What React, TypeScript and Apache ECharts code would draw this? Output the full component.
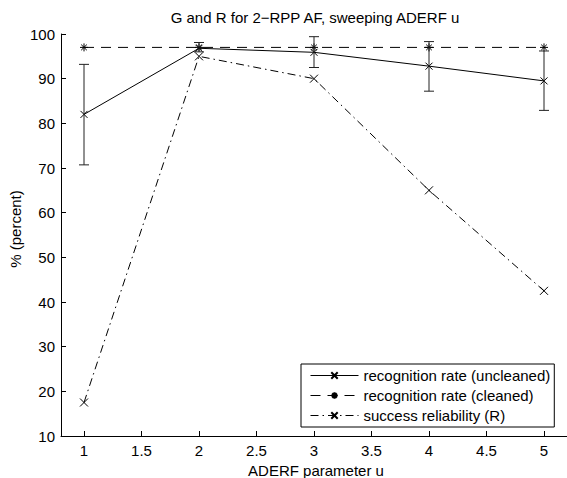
import React, { useEffect, useRef } from "react";
import * as echarts from "echarts";

const xValues = [1, 2, 3, 4, 5];
const uncleaned = [82, 96.8, 95.9, 92.8, 89.5];
const uncleanedLow = [70.7, 96.0, 92.5, 87.2, 82.9];
const uncleanedHigh = [93.2, 98.1, 99.4, 98.3, 96.2];
const cleaned = [97, 97, 97, 97, 97];
const reliability = [17.5, 95, 90, 65, 42.5];
const xTicks = [1, 1.5, 2, 2.5, 3, 3.5, 4, 4.5, 5];

const FONT = "'Liberation Sans', Arial, Helvetica, sans-serif";
const FS = 15;
const CROSS = "path://M0,0L10,10M10,0L0,10";
const STAR = "path://M0,5L10,5M5,0L5,10M1.5,1.5L8.5,8.5M8.5,1.5L1.5,8.5";

export default function App() {
  const ref = useRef<HTMLDivElement>(null);
  useEffect(() => {
    if (!ref.current) return;
    const chart = echarts.init(ref.current, undefined, { renderer: "svg" });
    const pts = (ys: number[]) => xValues.map((x, i) => [x, ys[i]]);
    const markStyle = { color: "#000", borderColor: "#000", borderWidth: 1 };
    chart.setOption({
      animation: false,
      backgroundColor: "#fff",
      textStyle: { fontFamily: FONT, color: "#000" },
      grid: { left: 61, right: -4, top: 34, bottom: 42 },
      xAxis: {
        type: "value",
        min: 0.8,
        max: 5.2,
        axisLine: { show: true, onZero: false, lineStyle: { color: "#000", width: 1 } },
        axisTick: { show: true, inside: true, length: 5, customValues: xTicks, lineStyle: { color: "#000" } },
        axisLabel: { customValues: xTicks, color: "#000", fontSize: FS, fontFamily: FONT, margin: 7 },
        splitLine: { show: false },
      },
      yAxis: {
        type: "value",
        min: 10,
        max: 100,
        interval: 10,
        axisLine: { show: true, onZero: false, lineStyle: { color: "#000", width: 1 } },
        axisTick: { show: true, inside: true, length: 5, lineStyle: { color: "#000" } },
        axisLabel: { color: "#000", fontSize: FS, fontFamily: FONT, margin: 6 },
        splitLine: { show: false },
      },
      legend: {
        orient: "vertical",
        left: 301,
        top: 364,
        padding: [4, 4, 4, 9],
        itemGap: 5,
        itemWidth: 48,
        itemHeight: 8,
        borderColor: "#000",
        borderWidth: 1,
        borderRadius: 0,
        backgroundColor: "#fff",
        lineStyle: { width: 1 },
        textStyle: { fontSize: FS, fontFamily: FONT, color: "#000" },
        data: [
          "recognition rate (uncleaned)",
          "recognition rate (cleaned)",
          "success reliability (R)",
        ],
      },
      graphic: [
        {
          type: "text",
          style: {
            text: "G and R for 2\u2212RPP AF, sweeping ADERF u",
            x: 315,
            y: 17,
            align: "center",
            verticalAlign: "middle",
            font: `${FS}px ${FONT}`,
            fill: "#000",
          },
        },
        {
          type: "text",
          style: {
            text: "ADERF parameter u",
            x: 316,
            y: 470,
            align: "center",
            verticalAlign: "middle",
            font: `${FS}px ${FONT}`,
            fill: "#000",
          },
        },
        {
          type: "text",
          x: 15,
          y: 229,
          rotation: Math.PI / 2,
          style: {
            text: "% (percent)",
            x: 0,
            y: 0,
            align: "center",
            verticalAlign: "middle",
            font: `${FS}px ${FONT}`,
            fill: "#000",
          },
        },
      ],
      series: [
        {
          name: "recognition rate (uncleaned)",
          type: "line",
          data: pts(uncleaned),
          symbol: CROSS,
          symbolSize: 7,
          showAllSymbol: true,
          lineStyle: { color: "#000", width: 1, type: "solid" },
          itemStyle: markStyle,
          z: 3,
        },
        {
          name: "recognition rate (cleaned)",
          type: "line",
          data: pts(cleaned),
          symbol: STAR,
          symbolSize: 8,
          lineStyle: { color: "#000", width: 1, type: [10, 7] },
          itemStyle: markStyle,
          z: 2,
        },
        {
          name: "success reliability (R)",
          type: "line",
          data: pts(reliability),
          symbol: CROSS,
          symbolSize: 8,
          lineStyle: { color: "#000", width: 1, type: [8, 4, 1.5, 4] },
          itemStyle: markStyle,
          z: 2,
        },
        {
          name: "errorbars",
          type: "custom",
          data: xValues.map((x, i) => [x, uncleanedLow[i], uncleanedHigh[i]]),
          encode: { x: 0, y: [1, 2] },
          z: 4,
          renderItem: (params: any, api: any) => {
            const x = api.value(0);
            const lo = api.coord([x, api.value(1)]);
            const hi = api.coord([x, api.value(2)]);
            const w = 5;
            const st = { stroke: "#222", lineWidth: 1 };
            return {
              type: "group",
              children: [
                { type: "line", shape: { x1: lo[0], y1: lo[1], x2: hi[0], y2: hi[1] }, style: st },
                { type: "line", shape: { x1: lo[0] - w, y1: lo[1], x2: lo[0] + w, y2: lo[1] }, style: st },
                { type: "line", shape: { x1: hi[0] - w, y1: hi[1], x2: hi[0] + w, y2: hi[1] }, style: st },
              ],
            };
          },
        },
      ],
    });
    return () => chart.dispose();
  }, []);
  return (
    <div
      ref={ref}
      style={{ position: "fixed", left: 0, top: 0, width: 567, height: 478, background: "#fff" }}
    />
  );
}
